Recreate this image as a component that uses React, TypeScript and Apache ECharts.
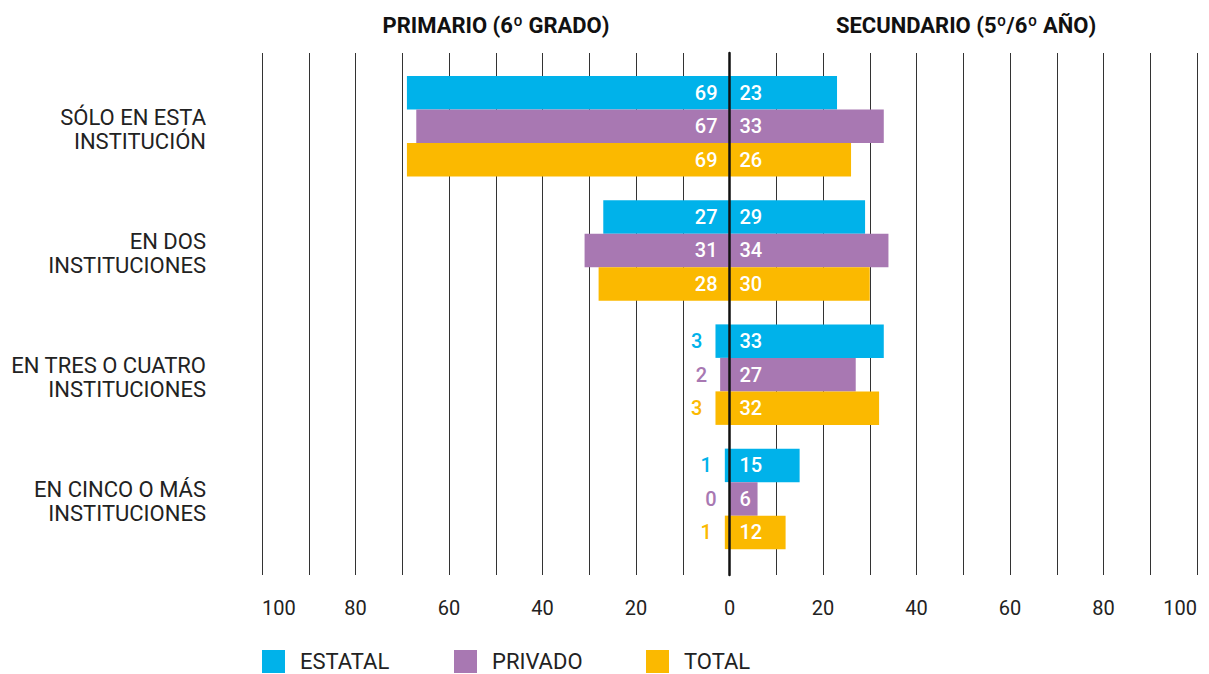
import React, { useEffect, useRef } from "react";
import * as echarts from "echarts";

const categories = [
  "SÓLO EN ESTA\nINSTITUCIÓN",
  "EN DOS\nINSTITUCIONES",
  "EN TRES O CUATRO\nINSTITUCIONES",
  "EN CINCO O MÁS\nINSTITUCIONES",
];
const types = ["ESTATAL", "PRIVADO", "TOTAL"];
const colors = ["#00B2EA", "#A878B2", "#FBB900"];
// Primario (6º grado) – drawn to the left
const primEstatal = [69, 27, 3, 1];
const primPrivado = [67, 31, 2, 0];
const primTotal = [69, 28, 3, 1];
// Secundario (5º/6º año) – drawn to the right
const secEstatal = [23, 29, 33, 15];
const secPrivado = [33, 34, 27, 6];
const secTotal = [26, 30, 32, 12];
const tickValues = [-100, -80, -60, -40, -20, 0, 20, 40, 60, 80, 100];
const headers = ["PRIMARIO (6º GRADO)", "SECUNDARIO (5º/6º AÑO)"];

const prim = [primEstatal, primPrivado, primTotal];
const sec = [secEstatal, secPrivado, secTotal];

const labelFont = { fontFamily: "Roboto", fontSize: 20, fontWeight: 500 };

export default function App() {
  const ref = useRef<HTMLDivElement>(null);
  useEffect(() => {
    document.body.style.margin = "0";
    const chart = echarts.init(ref.current!, undefined, { renderer: "svg" });
    const series: any[] = [];
    types.forEach((t, i) => {
      series.push({
        name: t,
        type: "bar",
        stack: "s" + i,
        xAxisIndex: 1,
        yAxisIndex: 1,
        barWidth: 33.5,
        barGap: "0%",
        itemStyle: { color: colors[i] },
        data: prim[i].map((v) => ({
          value: -v,
          label:
            v >= 5
              ? { show: true, position: "insideRight", distance: 12, color: "#fff", ...labelFont }
              : { show: true, position: "left", distance: 13, color: colors[i], ...labelFont },
        })),
        label: { show: true, formatter: (p: any) => String(Math.abs(p.value)) },
      });
      series.push({
        name: t,
        type: "bar",
        stack: "s" + i,
        xAxisIndex: 1,
        yAxisIndex: 1,
        barWidth: 33.5,
        barGap: "0%",
        itemStyle: { color: colors[i] },
        data: sec[i].map((v) => ({
          value: v,
          label:
            v >= 5
              ? { show: true, position: "insideLeft", distance: 10, color: "#fff", ...labelFont }
              : { show: true, position: "right", distance: 13, color: colors[i], ...labelFont },
        })),
        label: { show: true, formatter: (p: any) => String(Math.abs(p.value)) },
      });
    });

    const legendBase = {
      top: 650,
      itemWidth: 23,
      itemHeight: 23,
      icon: "rect",
      padding: 0,
      selectedMode: false,
      textStyle: { fontFamily: "Roboto", fontSize: 22, color: "#222", padding: [0, 0, 0, 10] },
    };

    chart.setOption({
      animation: false,
      textStyle: { fontFamily: "Roboto" },
      grid: [
        { left: 262, right: 12, top: 53, bottom: 99, containLabel: false },
        { left: 262, right: 12, top: 64, height: 497, containLabel: false },
      ],
      xAxis: [
        {
          type: "value",
          gridIndex: 0,
          min: -100,
          max: 100,
          interval: 10,
          axisLine: { show: false },
          axisTick: { show: false },
          splitLine: { show: true, lineStyle: { color: "#333", width: 1 } },
          axisLabel: {
            margin: 23,
            fontFamily: "Roboto",
            fontSize: 20,
            color: "#222",
            alignMinLabel: "left",
            alignMaxLabel: "right",
            showMinLabel: true,
            showMaxLabel: true,
            formatter: (v: number) => (tickValues.includes(v) ? String(Math.abs(v)) : ""),
          },
        },
        {
          type: "value",
          gridIndex: 1,
          min: -100,
          max: 100,
          interval: 10,
          show: false,
          splitLine: { show: false },
        },
      ],
      yAxis: [
        {
          type: "category",
          gridIndex: 0,
          data: categories,
          z: 10,
          axisLine: { show: true, onZero: true, lineStyle: { color: "#111", width: 2.5 } },
          axisTick: { show: false },
          axisLabel: { show: false },
          splitLine: { show: false },
        },
        {
          type: "category",
          gridIndex: 1,
          data: categories,
          inverse: true,
          axisLine: { show: false },
          axisTick: { show: false },
          splitLine: { show: false },
          axisLabel: {
            margin: 56,
            fontFamily: "Roboto",
            fontSize: 22,
            lineHeight: 24,
            formatter: (v: string) =>
              v
                .split("\n")
                .map((s) => "{t|" + s + "}")
                .join("\n"),
            rich: {
              t: {
                fontFamily: "Roboto",
                fontSize: 22,
                lineHeight: 24,
                color: "#222",
                padding: [6, 0, 0, 0],
              },
            },
            color: "#222",
            align: "right",
          },
        },
      ],
      legend: [
        { ...legendBase, left: 262, data: [types[0]] },
        { ...legendBase, left: 454, data: [types[1]] },
        { ...legendBase, left: 646, data: [types[2]] },
      ],
      graphic: [
        {
          type: "text",
          x: 496,
          y: 25,
          style: {
            text: headers[0],
            textAlign: "center",
            textVerticalAlign: "middle",
            fontFamily: "Roboto",
            fontWeight: "bold",
            fontSize: 22,
            fill: "#111",
          },
        },
        {
          type: "text",
          x: 966,
          y: 25,
          style: {
            text: headers[1],
            textAlign: "center",
            textVerticalAlign: "middle",
            fontFamily: "Roboto",
            fontWeight: "bold",
            fontSize: 22,
            fill: "#111",
          },
        },
      ],
      series,
    });
    return () => chart.dispose();
  }, []);
  return <div ref={ref} style={{ width: 1209, height: 674 }} />;
}
